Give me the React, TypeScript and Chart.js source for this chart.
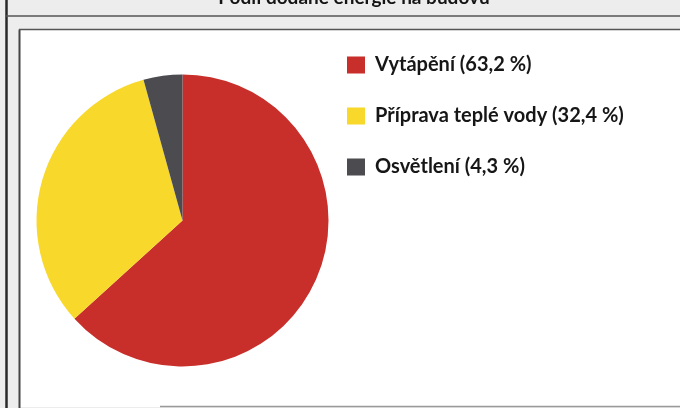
import { useEffect, useRef } from 'react';
import { Chart, registerables } from 'chart.js';

Chart.register(...registerables);

// ---- data ----
const categories = ['Vytápění (63,2 %)', 'Příprava teplé vody (32,4 %)', 'Osvětlení (4,3 %)'];
const shares = [63.2, 32.4, 4.3];
const sliceColors = ['#c82f2b', '#f8d82b', '#4b4b50'];
const titleText = 'Podíl dodané energie na budovu';

const W = 680;
const H = 430;
const FONT_SIZE = 20;
const BOX_W = 18;
const LEG_PAD = 31;

const framePlugin = {
  id: 'scanFrame',
  beforeDraw(chart: any) {
    const ctx = chart.ctx as CanvasRenderingContext2D;
    ctx.save();
    ctx.fillStyle = '#ededed';
    ctx.fillRect(0, 0, W, H);
    ctx.fillStyle = '#ffffff';
    ctx.fillRect(20, 30, W - 20, 377);

    const line = (x1: number, y1: number, x2: number, y2: number, w: number, c: string) => {
      ctx.beginPath();
      ctx.strokeStyle = c;
      ctx.lineWidth = w;
      ctx.moveTo(x1, y1);
      ctx.lineTo(x2, y2);
      ctx.stroke();
    };
    line(6.5, 0, 6.5, 408, 2.5, '#2a2a2a');
    line(6, 16, W, 16, 1.5, '#555555');
    line(19.5, 29.5, 19.5, 408, 2, '#444444');
    line(19, 29.5, W, 29.5, 1.5, '#555555');
    line(160, 406.5, W, 406.5, 1.5, '#9a9a9a');

    ctx.fillStyle = '#151515';
    ctx.font = 'bold 19px Lato';
    ctx.textAlign = 'center';
    ctx.textBaseline = 'alphabetic';
    ctx.fillText(titleText, 354, 3.5);
    ctx.restore();
  },
};

export default function App() {
  const ref = useRef<HTMLCanvasElement | null>(null);

  useEffect(() => {
    if (!ref.current) return;
    const mctx = document.createElement('canvas').getContext('2d') as CanvasRenderingContext2D;
    mctx.font = `bold ${FONT_SIZE}px Lato`;
    const maxText = Math.max(...categories.map((t) => mctx.measureText(t).width));
    const legendW = LEG_PAD + BOX_W + FONT_SIZE / 2 + maxText + 10;
    const legendLeft = 347 - LEG_PAD;
    const padRight = W - legendLeft - legendW;

    const chart = new Chart(ref.current, {
      type: 'pie',
      data: {
        labels: categories,
        datasets: [
          {
            data: shares,
            backgroundColor: sliceColors,
            borderWidth: 0,
            radius: 146,
            clip: false,
          } as any,
        ],
      },
      options: {
        animation: false,
        responsive: false,
        maintainAspectRatio: false,
        layout: { padding: { left: 2 * 182.5 - legendLeft, top: 24, right: padRight, bottom: 13 } },
        plugins: {
          legend: {
            position: 'right',
            align: 'start',
            maxWidth: legendW + 20,
            labels: {
              boxWidth: BOX_W,
              boxHeight: 17,
              padding: LEG_PAD,
              color: '#161616',
              font: { family: 'Lato', size: FONT_SIZE, weight: 'bold' },
            },
          },
          tooltip: { enabled: false },
        },
      } as any,
      plugins: [framePlugin],
    });
    return () => chart.destroy();
  }, []);

  return (
    <div
      style={{
        position: 'fixed',
        left: 0,
        top: 0,
        width: W,
        height: 408,
        overflow: 'hidden',
        background: '#fff',
      }}
    >
      <canvas ref={ref} width={W} height={H} style={{ display: 'block' }} />
    </div>
  );
}
